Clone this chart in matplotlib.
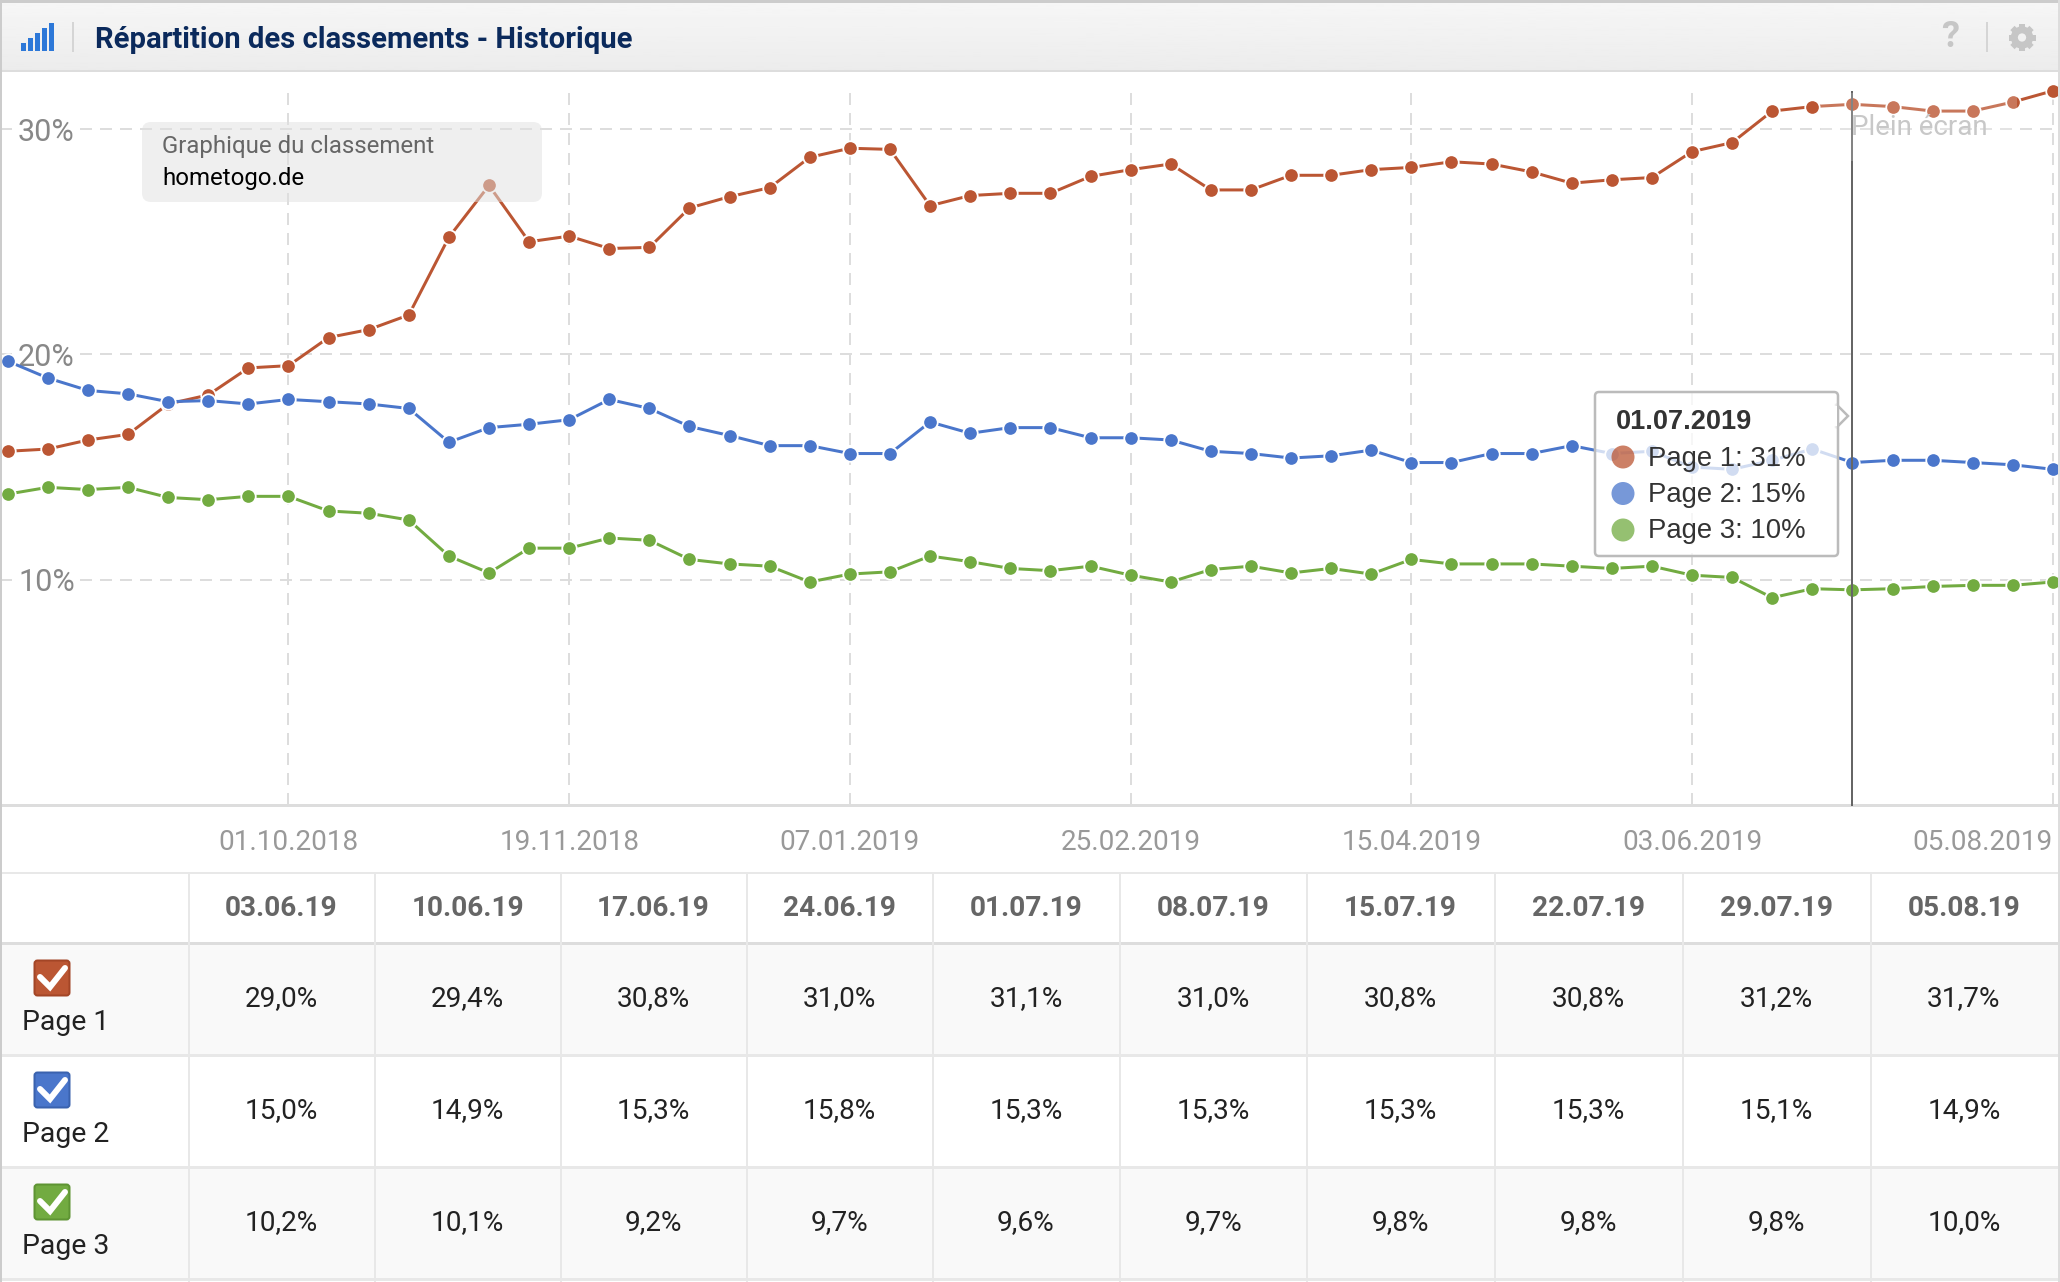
import numpy as np
import pandas as pd
import matplotlib
matplotlib.use('Agg')
import matplotlib.pyplot as plt
import matplotlib.dates as mdates
from matplotlib import patches

W, H = 2060, 1282

# chart data, one point per week
dates = pd.date_range('2018-08-13', periods=52, freq='7D')
page1 = [15.7, 15.8, 16.2, 16.45, 17.8, 18.2, 19.4, 19.5, 20.75, 21.1, 21.75, 25.2, 27.5,
         25.0, 25.25, 24.7, 24.75, 26.5, 27.0, 27.4, 28.75, 29.15, 29.1, 26.6, 27.05, 27.15,
         27.15, 27.9, 28.2, 28.45, 27.3, 27.3, 27.95, 27.95, 28.2, 28.3, 28.55, 28.45, 28.1,
         27.6, 27.75, 27.85, 29.0, 29.4, 30.8, 31.0, 31.1, 31.0, 30.8, 30.8, 31.2, 31.7]
page2 = [19.7, 18.95, 18.4, 18.25, 17.9, 17.95, 17.8, 18.0, 17.9, 17.8, 17.6, 16.1, 16.75,
         16.9, 17.1, 18.0, 17.6, 16.8, 16.4, 15.95, 15.95, 15.6, 15.6, 17.0, 16.5, 16.75,
         16.75, 16.3, 16.3, 16.2, 15.7, 15.6, 15.4, 15.5, 15.75, 15.2, 15.2, 15.6, 15.6,
         15.95, 15.6, 15.7, 15.0, 14.9, 15.3, 15.8, 15.2, 15.3, 15.3, 15.2, 15.1, 14.9]
page3 = [13.8, 14.1, 14.0, 14.1, 13.65, 13.55, 13.7, 13.7, 13.05, 12.95, 12.65, 11.05, 10.3,
         11.4, 11.4, 11.85, 11.75, 10.9, 10.7, 10.6, 9.9, 10.25, 10.35, 11.05, 10.8, 10.5,
         10.4, 10.6, 10.2, 9.9, 10.45, 10.6, 10.3, 10.5, 10.25, 10.9, 10.7, 10.7, 10.7,
         10.6, 10.5, 10.6, 10.2, 10.1, 9.2, 9.6, 9.55, 9.6, 9.7, 9.75, 9.75, 9.9]

tick_dates = ['2018-10-01', '2018-11-19', '2019-01-07', '2019-02-25',
              '2019-04-15', '2019-06-03', '2019-08-05']
tick_labels = ['01.10.2018', '19.11.2018', '07.01.2019', '25.02.2019',
               '15.04.2019', '03.06.2019', '05.08.2019']

# table data
table_dates = ['03.06.19', '10.06.19', '17.06.19', '24.06.19', '01.07.19',
               '08.07.19', '15.07.19', '22.07.19', '29.07.19', '05.08.19']
table_names = ['Page 1', 'Page 2', 'Page 3']
row1 = ['29,0%', '29,4%', '30,8%', '31,0%', '31,1%', '31,0%', '30,8%', '30,8%', '31,2%', '31,7%']
row2 = ['15,0%', '14,9%', '15,3%', '15,8%', '15,3%', '15,3%', '15,3%', '15,3%', '15,1%', '14,9%']
row3 = ['10,2%', '10,1%', '9,2%', '9,7%', '9,6%', '9,7%', '9,8%', '9,8%', '9,8%', '10,0%']

col_red, col_blue, col_green = '#bb5633', '#4a76cb', '#72ab41'
px = 72 / 100.0

plt.rcParams['font.family'] = ['Roboto', 'DejaVu Sans']
fig = plt.figure(figsize=(W / 100, H / 100), dpi=100, facecolor='white')

# chart, 0% sits at y=805 and 10% is 225.3 px
ax = fig.add_axes([0, (H - 805) / H, 1, (805 - 92) / H])
ax.set_facecolor('none')
day_px = 40.1 / 7
x0 = mdates.date2num(dates[0])
ax.set_xlim(x0 - 7.8 / day_px, x0 + (W - 7.8) / day_px)
ax.set_ylim(0, (805 - 92) / 22.53)

for vals, col in [(page1, col_red), (page2, col_blue), (page3, col_green)]:
    ax.plot(dates, vals, color=col, lw=3 * px, marker='o', ms=14.5 * px, mfc=col,
            mec='white', mew=1.8 * px, clip_on=False, zorder=3)

ax.set_yticks([10, 20, 30], ['10%', '20%', '30%'])
ax.set_xticks(pd.to_datetime(tick_dates), tick_labels)
ax.grid(True, color='#dddddd', lw=2 * px, dashes=(6, 4))
ax.set_axisbelow(True)
ax.tick_params(axis='both', length=0)
ax.tick_params(axis='x', labelsize=20.1, labelcolor='#999999', pad=17)
ax.tick_params(axis='y', labelsize=22, labelcolor='#888888', pad=-13)
for lab in ax.get_yticklabels():
    lab.set_ha('left')
    lab.set_bbox(dict(fc='white', ec='none', pad=1.5))
ax.get_xticklabels()[-1].set_ha('right')
for s in ['top', 'left', 'right']:
    ax.spines[s].set_visible(False)
ax.spines['bottom'].set_color('#dddddd')
ax.spines['bottom'].set_linewidth(3 * px)

# crosshair on 01.07.2019
ax.axvline(dates[46], color='#666666', lw=2 * px, zorder=4, clip_on=False)

# everything else in pixel coordinates on top
ov = fig.add_axes([0, 0, 1, 1], zorder=5)
ov.patch.set_visible(False)
ov.axis('off')


def rect(x, y, w, h, **kw):
    kw.setdefault('ec', 'none')
    ov.add_patch(patches.Rectangle((x, y), w, h, **kw))


# header
grad = np.linspace(0.965, 0.925, 64).reshape(-1, 1)
ov.imshow(grad, extent=(0, W, 71, 2), cmap='gray', vmin=0, vmax=1, aspect='auto', zorder=0)
ov.set_xlim(0, W)
ov.set_ylim(H, 0)
rect(0, 0, W, 2.5, fc='#cccccc')
rect(0, 69.5, W, 2.5, fc='#dddddd')
for i, h in enumerate([8, 13, 18, 23, 28]):
    rect(21 + i * 7, 51 - h, 4.5, h, fc='#2d78d8')
rect(72, 22, 2, 30, fc='#d5d5d5')
rect(1986, 22, 2, 30, fc='#d5d5d5')
ov.text(95, 39.5, 'Répartition des classements - Historique', fontsize=21.1, fontweight='bold',
        color='#0b2a5c', va='center', ha='left')
ov.text(1950, 37, '?', fontsize=26, fontweight='bold', color='#c6c6c6', va='center', ha='center')

# gear icon
gx, gy = 2022, 37.5
ov.add_patch(patches.Circle((gx, gy), 7.7, fc='none', ec='#c6c6c6', lw=7 * px))
for ang in np.deg2rad(np.arange(0, 360, 45)):
    ov.plot([gx + 9 * np.cos(ang), gx + 13.5 * np.cos(ang)],
            [gy + 9 * np.sin(ang), gy + 13.5 * np.sin(ang)],
            color='#c6c6c6', lw=6 * px, solid_capstyle='butt')

# "Graphique du classement" box
ov.add_patch(patches.FancyBboxPatch((147, 127), 390, 70, boxstyle='round,pad=5,rounding_size=9',
                                    fc='#e0e0e0', ec='none', alpha=0.5))
ov.text(162.5, 147, 'Graphique du classement', fontsize=17.3, color='#666666', va='center', ha='left')
ov.text(162.5, 179, 'hometogo.de', fontsize=17.3, color='black', va='center', ha='left')

# "Plein écran" button, washed out
rect(1821, 93, 196, 68, fc='white', alpha=0.2)
ov.text(1851, 127.5, 'Plein écran', fontsize=20, color='#c8c8c8', va='center', ha='left')

# tooltip
ov.add_patch(patches.Polygon([(1836, 404), (1848, 416), (1836, 428)], closed=True,
                             fc='white', ec='#bbbbbb', lw=2.5 * px))
ov.add_patch(patches.FancyBboxPatch((1598, 395), 237, 158, boxstyle='round,pad=3,rounding_size=4',
                                    fc='white', ec='none', alpha=0.75))
ov.add_patch(patches.FancyBboxPatch((1598, 395), 237, 158, boxstyle='round,pad=3,rounding_size=4',
                                    fc='none', ec='#bbbbbb', lw=2.5 * px))
rect(1833, 406, 3.5, 20, fc='white')
tip_font = ['Liberation Sans', 'DejaVu Sans']
ov.text(1616, 422, '01.07.2019', fontsize=19.5, fontweight='bold', color='#333333',
        family=tip_font, va='center', ha='left')
for yy, col, lab in [(457, col_red, 'Page 1: 31%'), (493.5, col_blue, 'Page 2: 15%'),
                     (530, col_green, 'Page 3: 10%')]:
    ov.add_patch(patches.Ellipse((1623, yy), 23, 23, fc=col, ec='none', alpha=0.75))
    ov.text(1648, yy + 1.5, lab, fontsize=19.8, color='#333333', family=tip_font, va='center', ha='left')

# table
col_edges = [189, 375, 561, 747, 933, 1120, 1307, 1495, 1683, 1871, 2058]
row_edges = [943, 1055, 1167, 1279]
rect(2, row_edges[0], W - 4, 112, fc='#f9f9f9')
rect(2, row_edges[2], W - 4, 112, fc='#f9f9f9')
rect(0, 871.5, W, 2.5, fc='#e8e8e8')
rect(0, row_edges[0] - 1.5, W, 3, fc='#dddddd')
for y in row_edges[1:]:
    rect(0, y - 1.5, W, 3, fc='#e8e8e8')
for x in col_edges[:-1]:
    rect(x - 1.5, 873, 2.5, H - 873, fc='#e8e8e8')
for i, d in enumerate(table_dates):
    xc = (col_edges[i] + col_edges[i + 1]) / 2 - 0.5
    ov.text(xc, 908, d, fontsize=20.2, fontweight='bold', color='#666666', va='center', ha='center')
    for j, row in enumerate([row1, row2, row3]):
        ov.text(xc, 998.5 + j * 112, row[i], fontsize=20.2, color='#222222', va='center', ha='center')

box_cols = [(col_red, '#a34526'), (col_blue, '#3a62ae'), (col_green, '#5e9433')]
for j, name in enumerate(table_names):
    top = 960 + j * 112
    ov.add_patch(patches.FancyBboxPatch((35.5, top + 1.5), 33, 33, boxstyle='round,pad=1,rounding_size=3',
                                        fc=box_cols[j][0], ec=box_cols[j][1], lw=2 * px))
    ov.plot([40, 50, 65], [top + 17, top + 27, top + 8], color='white', lw=6 * px,
            solid_capstyle='round', solid_joinstyle='miter')
    ov.text(22, 1022.5 + j * 112, name, fontsize=20.4, color='#222222', va='center', ha='left')

# outer borders
rect(0, 0, 2, H, fc='#cccccc')
rect(W - 2, 0, 2, H, fc='#dddddd')

fig.savefig('out.png', dpi=100)
